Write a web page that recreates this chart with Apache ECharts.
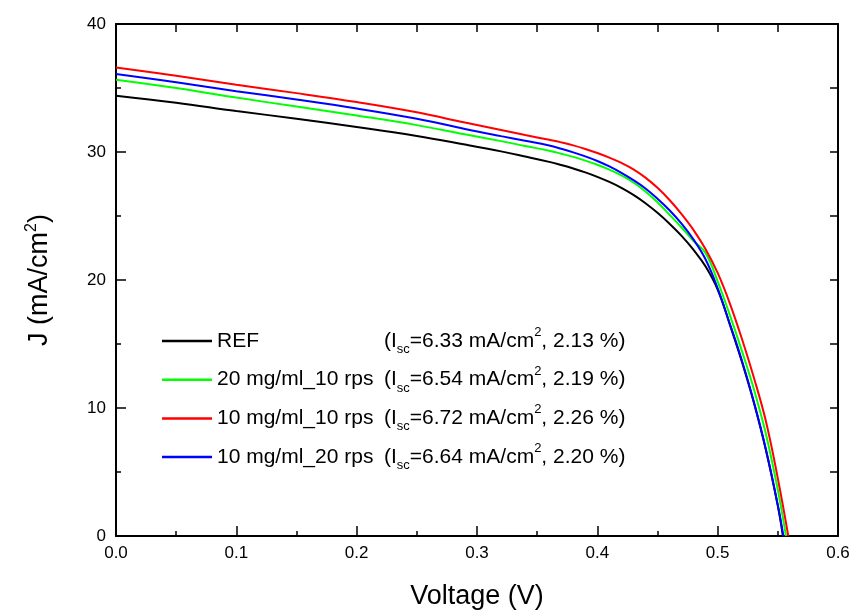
<!DOCTYPE html>
<html>
<head>
<meta charset="utf-8">
<script src="https://cdn.jsdelivr.net/npm/echarts@6/dist/echarts.min.js"></script>
<style>
  html, body { margin: 0; padding: 0; background: #fff; }
  #main { width: 856px; height: 615px; }
</style>
</head>
<body>
<div id="main"></div>
<script>
// J-V curves
const voltLow = [0, 0.05, 0.10, 0.15, 0.20, 0.25, 0.29, 0.32, 0.34]
const voltKnee = [0.36, 0.37, 0.38, 0.39, 0.40, 0.41, 0.42, 0.43, 0.44, 0.45, 0.46, 0.47, 0.48, 0.49, 0.50, 0.51, 0.52, 0.53, 0.54, 0.55]

const refJ = [34.4, 33.85, 33.2, 32.6, 31.95, 31.25, 30.58, 30.05, 29.65,
  29.23, 28.98, 28.71, 28.41, 28.06, 27.66, 27.2, 26.65, 26.0, 25.25, 24.4, 23.45, 22.35, 21.05, 19.25, 16.55, 13.65, 10.45, 6.75, 2.35]
const refVoc = 0.5542

const g2010J = [35.65, 35.0, 34.25, 33.55, 32.85, 32.1, 31.38, 30.85, 30.47,
  30.1, 29.87, 29.62, 29.33, 29.0, 28.62, 28.17, 27.62, 26.92, 26.07, 25.1, 24.1, 23.05, 22.1, 19.9, 17.3, 14.5, 11.5, 8.0, 3.6]
const g2010Voc = 0.5568

const r1010J = [36.6, 35.95, 35.25, 34.6, 33.9, 33.1, 32.3, 31.72, 31.33,
  30.95, 30.75, 30.52, 30.24, 29.92, 29.56, 29.15, 28.65, 28.0, 27.2, 26.25, 25.15, 23.9, 22.4, 20.55, 18.2, 15.45, 12.4, 9.0, 4.5]
const r1010Voc = 0.5587

const b1020J = [36.1, 35.45, 34.75, 34.1, 33.4, 32.6, 31.8, 31.24, 30.88,
  30.5, 30.25, 29.97, 29.66, 29.3, 28.87, 28.37, 27.8, 27.15, 26.35, 25.45, 24.4, 23.15, 21.6, 19.35, 16.6, 13.75, 10.5, 6.8, 2.4]
const b1020Voc = 0.5546

const names = ['REF', '20 mg/ml_10 rps', '10 mg/ml_10 rps', '10 mg/ml_20 rps']
const iscVals = ['6.33', '6.54', '6.72', '6.64']
const pceVals = ['2.13', '2.19', '2.26', '2.20']
const colors = ['#000000', '#00ff00', '#ff0000', '#0000ff']

const xTicks = [0, 0.1, 0.2, 0.3, 0.4, 0.5, 0.6]
const yTicks = [0, 10, 20, 30, 40]

const volts = voltLow.concat(voltKnee)
const build = (j, voc) => volts.map((v, i) => [v, j[i]]).concat([[voc, 0]])
const curves = [build(refJ, refVoc), build(g2010J, g2010Voc), build(r1010J, r1010Voc), build(b1020J, b1020Voc)]

const font = '"Liberation Sans", Arial, sans-serif'
const chart = echarts.init(document.getElementById('main'))

const axisCommon = {
  axisLine: { show: true, onZero: false, lineStyle: { color: '#000', width: 2 } },
  splitLine: { show: false },
}

chart.setOption({
  animation: false,
  backgroundColor: '#fff',
  grid: { left: 116, right: 18, top: 24, bottom: 77 },
  legend: {
    orient: 'vertical',
    left: 162,
    top: 326,
    padding: 0,
    itemGap: 8.7,
    itemWidth: 50,
    itemHeight: 2.5,
    icon: 'rect',
    data: names,
    formatter: (name) => {
      const i = names.indexOf(name)
      return `{n|${name}}{p|(I}{sub|sc}{p|=${iscVals[i]} mA/cm}{sup|2}{p|, ${pceVals[i]} %)}`
    },
    textStyle: {
      fontFamily: font,
      fontSize: 21,
      color: '#000',
      rich: {
        n: { fontFamily: font, fontSize: 21, width: 167, lineHeight: 30, color: '#000' },
        p: { fontFamily: font, fontSize: 21, lineHeight: 30, color: '#000' },
        sub: { fontFamily: font, fontSize: 13, lineHeight: 12, verticalAlign: 'bottom', color: '#000' },
        sup: { fontFamily: font, fontSize: 13, lineHeight: 12, verticalAlign: 'top', color: '#000' },
      }
    }
  },
  xAxis: [
    {
      ...axisCommon,
      type: 'value',
      min: 0,
      max: 0.6,
      interval: 0.1,
      name: 'Voltage (V)',
      nameLocation: 'middle',
      nameGap: 47,
      nameTextStyle: { fontFamily: font, fontSize: 27, color: '#000' },
      axisTick: { inside: true, length: 10, lineStyle: { color: '#000', width: 1.5 } },
      minorTick: { show: true, splitNumber: 2, length: 5, lineStyle: { color: '#000', width: 1.5 } },
      axisLabel: {
        margin: 9,
        fontFamily: font,
        fontSize: 17,
        color: '#000',
        formatter: (v) => (xTicks.some(t => Math.abs(t - v) < 1e-9) ? v.toFixed(1) : '')
      }
    },
    {
      ...axisCommon,
      type: 'value',
      position: 'top',
      min: 0,
      max: 0.6,
      interval: 0.05,
      axisTick: { inside: true, length: 8, lineStyle: { color: '#000', width: 1.5 } },
      axisLabel: { show: false }
    }
  ],
  yAxis: [
    {
      ...axisCommon,
      type: 'value',
      min: 0,
      max: 40,
      interval: 10,
      name: '{a|J (mA/cm}{b|2}{a|)}',
      nameLocation: 'middle',
      nameGap: 60,
      nameTextStyle: {
        rich: {
          a: { fontFamily: font, fontSize: 27, color: '#000', lineHeight: 32 },
          b: { fontFamily: font, fontSize: 16, color: '#000', lineHeight: 14, verticalAlign: 'top' }
        }
      },
      axisTick: { inside: true, length: 10, lineStyle: { color: '#000', width: 1.5 } },
      minorTick: { show: true, splitNumber: 2, length: 5, lineStyle: { color: '#000', width: 1.5 } },
      axisLabel: {
        margin: 10,
        fontFamily: font,
        fontSize: 17,
        color: '#000',
        formatter: (v) => (yTicks.includes(v) ? String(v) : '')
      }
    },
    {
      ...axisCommon,
      type: 'value',
      position: 'right',
      min: 0,
      max: 40,
      interval: 5,
      axisTick: { inside: true, length: 8, lineStyle: { color: '#000', width: 1.5 } },
      axisLabel: { show: false }
    }
  ],
  series: curves.map((d, i) => ({
    name: names[i],
    type: 'line',
    xAxisIndex: 0,
    yAxisIndex: 0,
    data: d,
    smooth: 0.4,
    showSymbol: false,
    symbol: 'none',
    clip: true,
    z: 2 + i,
    lineStyle: { color: colors[i], width: 2 },
    itemStyle: { color: colors[i] }
  }))
})
</script>
</body>
</html>
